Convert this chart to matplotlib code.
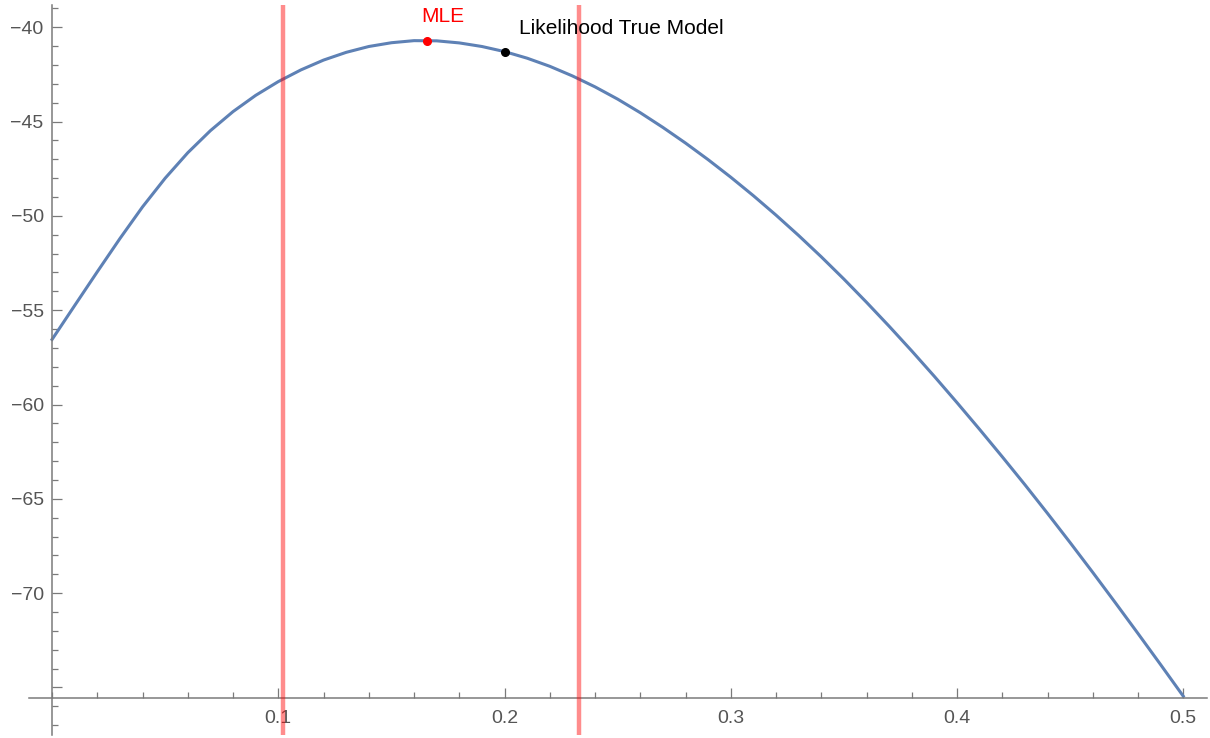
import numpy as np
import matplotlib
matplotlib.use("Agg")
import matplotlib.pyplot as plt
from matplotlib.ticker import MultipleLocator, FixedLocator

plt.rcParams['font.family'] = ['Liberation Sans', 'DejaVu Sans']

# log-likelihood curve over p
p = [0.00, 0.01, 0.02, 0.03, 0.04, 0.05, 0.06, 0.07, 0.08, 0.09,
     0.10, 0.11, 0.12, 0.13, 0.14, 0.15, 0.16, 0.17, 0.18, 0.19,
     0.20, 0.21, 0.22, 0.23, 0.24, 0.25, 0.26, 0.27, 0.28, 0.29,
     0.30, 0.31, 0.32, 0.33, 0.34, 0.35, 0.36, 0.37, 0.38, 0.39,
     0.40, 0.41, 0.42, 0.43, 0.44, 0.45, 0.46, 0.47, 0.48, 0.49, 0.50]
loglik = [-56.55, -54.75, -52.96, -51.20, -49.52, -48.00, -46.65, -45.48, -44.47, -43.61,
          -42.88, -42.26, -41.74, -41.33, -41.02, -40.82, -40.71, -40.72, -40.83, -41.02,
          -41.29, -41.64, -42.07, -42.58, -43.16, -43.81, -44.53, -45.31, -46.14, -47.02,
          -47.95, -48.93, -49.96, -51.04, -52.17, -53.35, -54.58, -55.85, -57.16, -58.51,
          -59.90, -61.32, -62.77, -64.25, -65.77, -67.32, -68.90, -70.51, -72.14, -73.79, -75.46]

mle = (0.1656, -40.71)
true_model = (0.2, -41.29)
interval = [0.1021, 0.2331]

fig = plt.figure(figsize=(12.1, 7.38), dpi=100)
ax = fig.add_axes([29 / 1210, 3 / 738, 1178 / 1210, 730 / 738])

ax.plot(p, loglik, color='#5E81B5', lw=2.2, zorder=2)
for x in interval:
    ax.axvline(x, color=(1, 0, 0), alpha=0.45, lw=3.2, zorder=3)

ax.plot(*mle, 'o', color='red', ms=5.5, zorder=4)
ax.plot(*true_model, 'o', color='black', ms=5.5, zorder=4)
ax.text(0.1728, -39.45, 'MLE', color='red', fontsize=15, ha='center', va='center')
ax.text(0.2062, -40.04, 'Likelihood True Model', color='black', fontsize=15,
        ha='left', va='center')

ax.set_xlim(-0.0102, 0.5105)
ax.set_ylim(-77.52, -38.82)

# axes crossing like a Mathematica plot
ax.spines['left'].set_position(('data', 0))
ax.spines['bottom'].set_position(('data', -75.55))
ax.spines['top'].set_visible(False)
ax.spines['right'].set_visible(False)
for s in ('left', 'bottom'):
    ax.spines[s].set_color('#7a7a7a')
    ax.spines[s].set_linewidth(1.1)

ax.xaxis.set_major_locator(FixedLocator([0.1, 0.2, 0.3, 0.4, 0.5]))
ax.xaxis.set_minor_locator(MultipleLocator(0.02))
ax.set_xticklabels(['0.1', '0.2', '0.3', '0.4', '0.5'])
ax.yaxis.set_major_locator(FixedLocator([-75, -70, -65, -60, -55, -50, -45, -40]))
ax.yaxis.set_minor_locator(MultipleLocator(1))
ax.set_yticklabels(['', '\u221270', '\u221265', '\u221260', '\u221255', '\u221250', '\u221245', '\u221240'])

ax.tick_params(which='both', direction='in', color='#7a7a7a', width=0.9,
               labelcolor='#555555', labelsize=14)
ax.tick_params(which='major', length=7)
ax.tick_params(which='minor', length=4.3)
ax.tick_params(axis='x', pad=9)
ax.tick_params(axis='y', pad=6)

fig.savefig('out.png', dpi=100)
